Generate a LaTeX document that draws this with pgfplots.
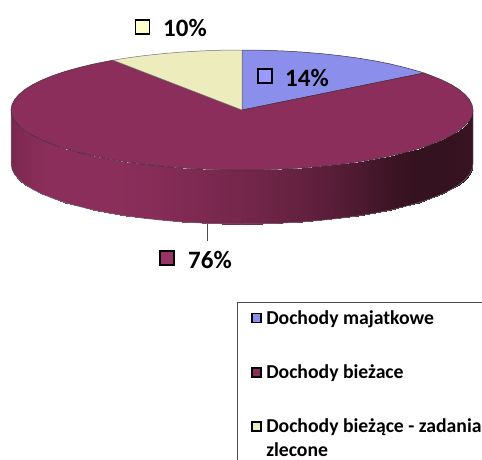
\documentclass[border=0pt]{standalone}
\usepackage{pgfplots}
\pgfplotsset{compat=1.18}
\usepackage{fontspec}
\setmainfont{Carlito}
\definecolor{blueslice}{RGB}{140,142,236}
\definecolor{maroonslice}{RGB}{139,46,91}
\definecolor{yellowslice}{RGB}{236,236,188}
\definecolor{bluekey}{RGB}{153,153,255}
\definecolor{maroonkey}{RGB}{153,51,102}
\definecolor{yellowkey}{RGB}{255,255,204}
\definecolor{edge}{RGB}{60,50,60}
\pgfplotsset{
    squarekey/.style={legend image code/.code={\draw[##1,draw=black,line width=1.6pt,yshift=#1] (0pt,-4.5pt) rectangle (9pt,4.5pt);\path (0pt,0pt) (13pt,0pt);}},
}

\begin{document}
\begin{tikzpicture}
\path[use as bounding box] (0,0) rectangle (482pt,459pt);
\begin{axis}[
    scale only axis,
    width=482pt,
    height=459pt,
    xmin=0, xmax=482,
    ymin=0, ymax=459,
    y dir=reverse,
    hide axis,
    colormap={side}{rgb255=(53,18,31) rgb255=(139,46,91)},
    point meta min=0, point meta max=1,
    legend cell align=left,
    legend style={
        at={(axis cs:237,302)},
        anchor=north west,
        draw=black!70,
        font=\bfseries\fontsize{19.7}{24}\selectfont,
        nodes={align=left, inner sep=1pt},
        row sep=37pt,
        inner xsep=14pt,
        inner ysep=7pt,
    },
]
% side wall of the disc
\addplot[surf, shader=interp, forget plot, mesh/cols=2, mesh/rows=37, point meta=explicit]
  table[x=x, y=y, meta=c] {
x y c
11 110 .8
11 164 .8
11.9 115.2 .8
11.9 169.2 .8
14.5 120.4 .82
14.5 174.4 .82
18.9 125.5 .85
18.9 179.5 .85
24.9 130.5 .9
24.9 184.5 .9
32.6 135.4 .95
32.6 189.4 .95
41.9 140 .98
41.9 194 .98
52.8 144.4 1
52.8 198.4 1
65.1 148.6 1
65.1 202.6 1
78.7 152.4 1
78.7 206.4 1
93.5 156 1
93.5 210 1
109.5 159.2 1
109.5 213.2 1
126.5 162 .98
126.5 216 .98
144.4 164.4 .96
144.4 218.4 .96
163 166.4 .93
163 220.4 .93
182.2 168 .88
182.2 222 .88
201.9 169.1 .83
201.9 223.1 .83
221.9 169.8 .78
221.9 223.8 .78
242 170 .74
242 224 .74
262.1 169.8 .68
262.1 223.8 .68
282.1 169.1 .61
282.1 223.1 .61
301.8 168 .54
301.8 222 .54
321 166.4 .46
321 220.4 .46
339.6 164.4 .38
339.6 218.4 .38
357.5 162 .28
357.5 216 .28
374.5 159.2 .18
374.5 213.2 .18
390.5 156 .09
390.5 210 .09
405.3 152.4 .03
405.3 206.4 .03
418.9 148.6 0
418.9 202.6 0
431.2 144.4 0
431.2 198.4 0
442.1 140 0
442.1 194 0
451.4 135.4 .01
451.4 189.4 .01
459.1 130.5 .02
459.1 184.5 .02
465.1 125.5 .03
465.1 179.5 .03
469.5 120.4 .04
469.5 174.4 .04
472.1 115.2 .05
472.1 169.2 .05
473 110 .05
473 164 .05
};
% outline of the side wall
\addplot[forget plot, draw=edge!70, line width=0.5pt] coordinates {
(11,110) (11,164) (11.9,169.2) (14.5,174.4) (18.9,179.5) (24.9,184.5) (32.6,189.4)
(41.9,194) (52.8,198.4) (65.1,202.6) (78.7,206.4) (93.5,210) (109.5,213.2) (126.5,216)
(144.4,218.4) (163,220.4) (182.2,222) (201.9,223.1) (221.9,223.8) (242,224)
(262.1,223.8) (282.1,223.1) (301.8,222) (321,220.4) (339.6,218.4) (357.5,216)
(374.5,213.2) (390.5,210) (405.3,206.4) (418.9,202.6) (431.2,198.4) (442.1,194)
(451.4,189.4) (459.1,184.5) (465.1,179.5) (469.5,174.4) (472.1,169.2) (473,164) (473,110)
};
% top slices
\addplot[fill=blueslice, draw=edge, line width=0.5pt, squarekey=0pt] coordinates {
(242,110) (242,50) (262.1,50.2) (282.1,50.9) (301.8,52) (321,53.6) (339.6,55.6)
(357.5,58) (374.5,60.8) (390.5,64) (405.3,67.6) (418.9,71.4) (424,73)
} --cycle;
\addlegendentry{Dochody majatkowe}
\addplot[fill=maroonslice, draw=edge, line width=0.5pt, squarekey=0pt] coordinates {
(242,110) (424,73) (431.2,75.6) (442.1,80) (451.4,84.6) (459.1,89.5) (465.1,94.5)
(469.5,99.6) (472.1,104.8) (473,110) (472.1,115.2) (469.5,120.4) (465.1,125.5)
(459.1,130.5) (451.4,135.4) (442.1,140) (431.2,144.4) (418.9,148.6) (405.3,152.4)
(390.5,156) (374.5,159.2) (357.5,162) (339.6,164.4) (321,166.4) (301.8,168)
(282.1,169.1) (262.1,169.8) (242,170) (221.9,169.8) (201.9,169.1) (182.2,168)
(163,166.4) (144.4,164.4) (126.5,162) (109.5,159.2) (93.5,156) (78.7,152.4)
(65.1,148.6) (52.8,144.4) (41.9,140) (32.6,135.4) (24.9,130.5) (18.9,125.5)
(14.5,120.4) (11.9,115.2) (11,110) (11.9,104.8) (14.5,99.6) (18.9,94.5) (24.9,89.5)
(32.6,84.6) (41.9,80) (52.8,75.6) (65.1,71.4) (78.7,67.6) (93.5,64) (109.5,60.8) (113,60.2)
} --cycle;
\addlegendentry{Dochody bieżace}
\addplot[fill=yellowslice, draw=edge!70, line width=0.5pt, squarekey=12pt] coordinates {
(242,110) (113,60.2) (126.5,58) (144.4,55.6) (163,53.6) (182.2,52) (201.9,50.9)
(221.9,50.2) (242,50)
} --cycle;
\addlegendentry{Dochody bieżące - zadania\\zlecone}
% leader line of the 76% label
\addplot[forget plot, draw=black!70, line width=0.7pt] coordinates {(207,224) (207,241)};
% label keys
\addplot[forget plot, only marks, mark=square*, mark size=7pt, mark options={fill=bluekey, draw=black, line width=1.8pt}] coordinates {(265,76)};
\addplot[forget plot, only marks, mark=square*, mark size=7pt, mark options={fill=yellowkey, draw=black, line width=1.8pt}] coordinates {(142.5,27)};
\addplot[forget plot, only marks, mark=square*, mark size=7pt, mark options={fill=maroonkey, draw=black, line width=1.8pt}] coordinates {(167,258)};
\node[font=\bfseries\fontsize{25}{27}\selectfont] at (axis cs:307,78) {14\%};
\node[font=\bfseries\fontsize{25}{27}\selectfont] at (axis cs:185,28) {10\%};
\node[font=\bfseries\fontsize{25}{27}\selectfont] at (axis cs:210,260) {76\%};
\end{axis}
\end{tikzpicture}
\end{document}
